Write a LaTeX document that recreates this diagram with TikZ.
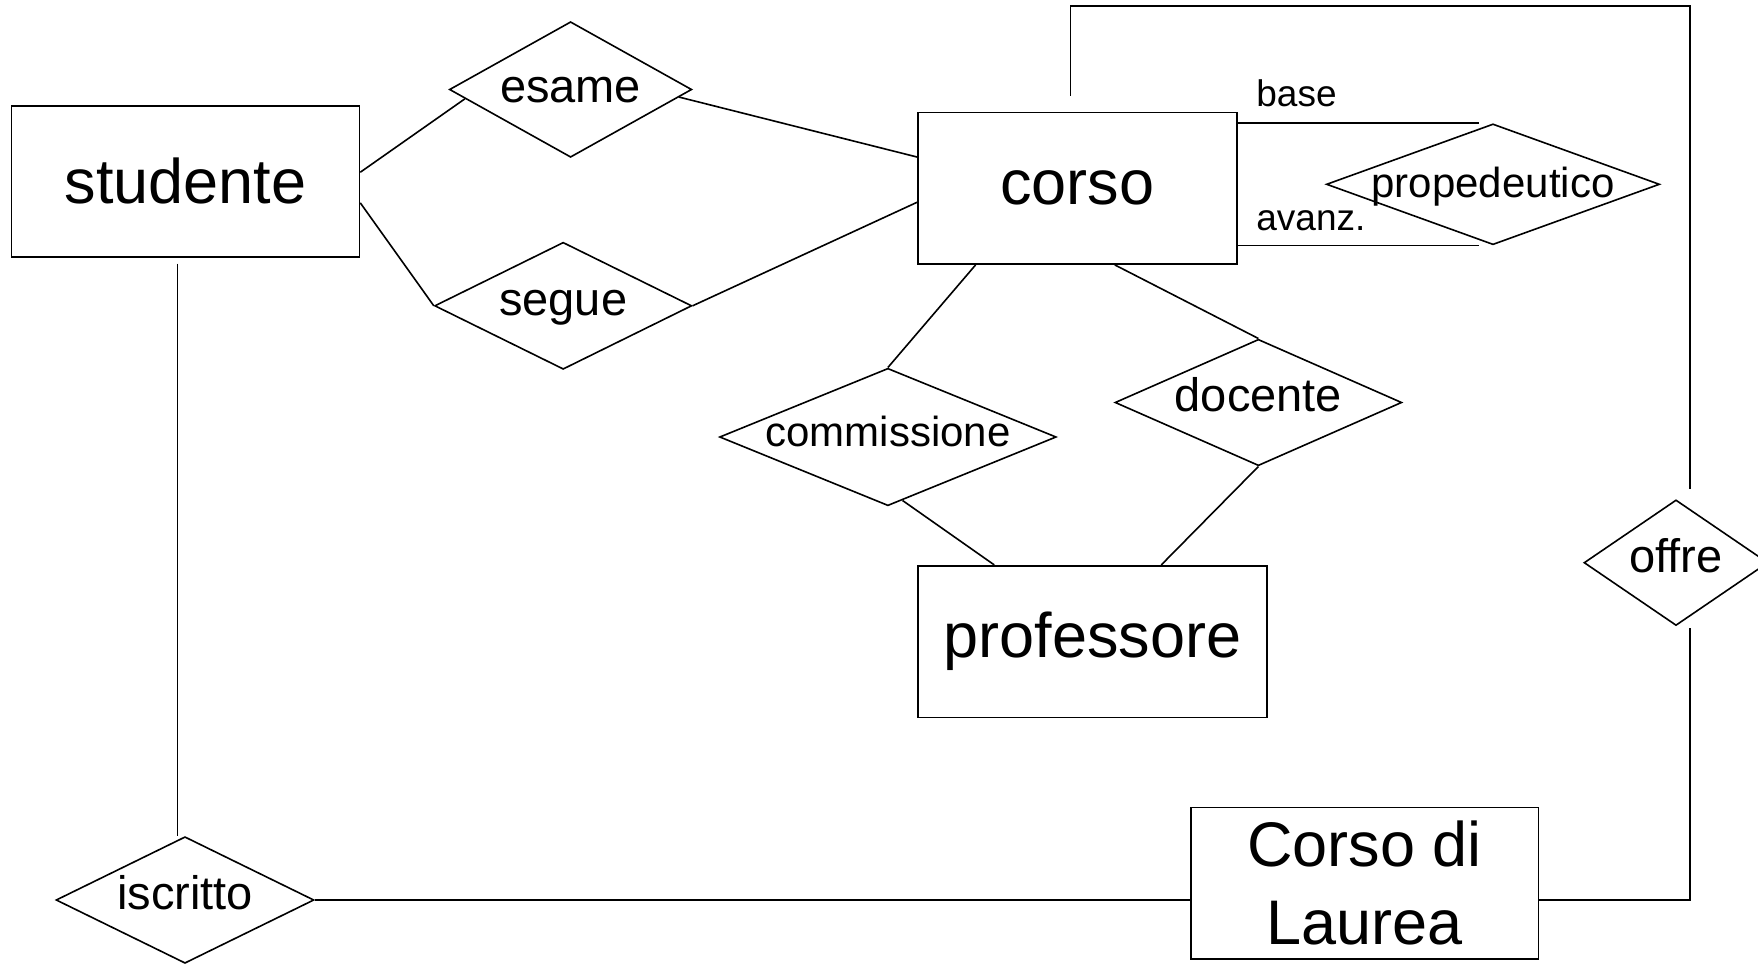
\documentclass[tikz,border=0pt]{standalone}
\usepackage{fontspec}
\setmainfont{Liberation Sans}
\usetikzlibrary{shapes.geometric,calc}
\newcommand{\entfont}{\fontsize{31.5}{39}\selectfont}
\newcommand{\relfont}{\fontsize{23.5}{28}\selectfont}
\newcommand{\rellongfont}{\fontsize{21}{25}\selectfont}
\newcommand{\rolefont}{\fontsize{18.5}{22}\selectfont}

\begin{document}
\begin{tikzpicture}[
  x=0.5pt, y=-0.5pt, line width=0.8pt,
  ent/.style={draw, rectangle, inner sep=0pt, align=center, font=\entfont},
  rel/.style={draw, diamond, inner sep=0pt, font=\relfont,
              text height=14pt, text depth=4.7pt},
  role/.style={font=\rolefont, inner sep=0pt, anchor=base west},
  ln/.style={draw, line width=0.8pt},
]
\useasboundingbox (0,0) rectangle (1758,964);

% ============================================================ ENTITIES
\node[ent, minimum width=174pt, minimum height=75.5pt] at (185.5,181.4) (studente) {studente};
\node[ent, minimum width=159.4pt, minimum height=75.9pt] at (1077.4,188.2) (corso) {corso};
\node[ent, minimum width=174.4pt, minimum height=75.8pt] at (1092.3,641.5) (professore) {professore};
\node[ent, minimum width=173.8pt, minimum height=75.7pt] at (1364.5,883.3) (cdl) {Corso di\\Laurea};

% ============================================================ RELATIONSHIPS
\node[rel, aspect=1.79, minimum width=121.2pt, minimum height=67.8pt,
      text depth=1pt] at (570.6,89.5) (esame) {esame};
\node[rel, aspect=2.03, minimum width=128.6pt, minimum height=63.5pt] at (563.2,305.8) (segue) {segue};
\node[rel, aspect=2.45, minimum width=165.6pt, minimum height=67.7pt, font=\rellongfont] at (887.9,437) (commissione) {commissione};
\node[rel, aspect=2.27, minimum width=143.4pt, minimum height=63.2pt] at (1258.4,402.5) (docente) {docente};
\node[rel, aspect=2.76, minimum width=166.6pt, minimum height=60.4pt, font=\rellongfont,
      text height=13pt, text depth=0pt] at (1493,184.3) (propedeutico) {propedeutico};
\node[rel, aspect=1.46, minimum width=92pt, minimum height=62.8pt] at (1676,562.7) (offre) {offre};
\node[rel, aspect=2.04, minimum width=129pt, minimum height=63.3pt] at (185,900) (iscritto) {iscritto};

% ---- ruoli di propedeutico
\node[role] at ($(propedeutico.north -| corso.east)+(18,-17)$) (base) {base};
\node[role] at ($(propedeutico.south -| corso.east)+(18,-15)$) (avanz) {avanz.};

% ============================================================ CONNECTORS
\draw[ln] (studente.3)  -- (esame.185);
\draw[ln] (esame.-4)    -- (corso.169);
\draw[ln] (studente.-7) -- (segue.west);
\draw[ln] (segue.east)  -- (corso.185);
\draw[ln] (corso.217)   -- (commissione.north);
\draw[ln] (corso.-64)   -- (docente.north);
\draw[ln] (commissione.-77) -- (professore.142);
\draw[ln] (docente.south)   -- (professore.48);
\draw[ln] (propedeutico.north -| corso.east) -- ([xshift=-7pt]propedeutico.north);
\draw[ln] (propedeutico.south -| corso.east) -- ([xshift=-7pt]propedeutico.south);

% ---- anello corso / offre / Corso di Laurea
\coordinate (loopne) at (1690,6);
\draw[ln, shorten <=8pt, shorten >=5pt] ([xshift=-3.5pt]corso.north) |- (loopne) -- (loopne |- offre.north);
\draw[ln, shorten >=1pt] (iscritto.east -| cdl.east) -| (loopne |- offre.south);

% ---- iscritto
\draw[ln, shorten <=3pt] ([xshift=-4pt]studente.south) -- ([xshift=-4pt]studente.south |- iscritto.north);
\draw[ln] (iscritto.east) -- (iscritto.east -| cdl.west);

\end{tikzpicture}
\end{document}
